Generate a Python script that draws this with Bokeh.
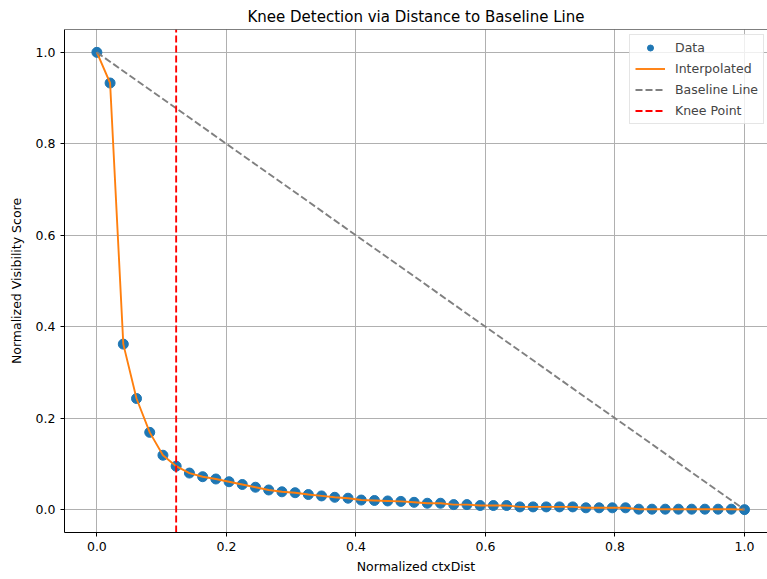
from bokeh.plotting import figure
from bokeh.models import PrintfTickFormatter, FixedTicker, Legend, LegendItem, Range1d, Span
from bokeh.embed import file_html
from bokeh.resources import INLINE

# ---- data ----
ctx_dist = [0.0, 0.0204, 0.0408, 0.0612, 0.0816, 0.1020, 0.1224, 0.1429, 0.1633, 0.1837,
            0.2041, 0.2245, 0.2449, 0.2653, 0.2857, 0.3061, 0.3265, 0.3469, 0.3673, 0.3878,
            0.4082, 0.4286, 0.4490, 0.4694, 0.4898, 0.5102, 0.5306, 0.5510, 0.5714, 0.5918,
            0.6122, 0.6327, 0.6531, 0.6735, 0.6939, 0.7143, 0.7347, 0.7551, 0.7755, 0.7959,
            0.8163, 0.8367, 0.8571, 0.8776, 0.8980, 0.9184, 0.9388, 0.9592, 0.9796, 1.0]
visibility = [1.0, 0.933, 0.362, 0.243, 0.169, 0.119, 0.095, 0.080, 0.072, 0.067,
              0.061, 0.055, 0.049, 0.043, 0.039, 0.037, 0.033, 0.030, 0.027, 0.025,
              0.021, 0.020, 0.019, 0.018, 0.016, 0.014, 0.014, 0.011, 0.011, 0.009,
              0.009, 0.009, 0.006, 0.006, 0.006, 0.006, 0.006, 0.004, 0.004, 0.004,
              0.004, 0.001, 0.001, 0.001, 0.001, 0.001, 0.001, 0.001, 0.001, 0.0]
knee_x = [0.1224]
tick_values = [0.0, 0.2, 0.4, 0.6, 0.8, 1.0]
series_labels = ["Data", "Interpolated", "Baseline Line", "Knee Point"]

# ---- layout ----
x_lo, x_hi = -0.05, 1.0355
y_lo, y_hi = -0.05, 1.05
FONT = "DejaVu Sans"

p = figure(width=767, height=579, output_backend="svg", toolbar_location=None,
           x_range=Range1d(x_lo, x_hi), y_range=Range1d(y_lo, y_hi),
           title="Knee Detection via Distance to Baseline Line",
           min_border_left=64, min_border_right=0, min_border_top=29, min_border_bottom=47)

p.title.align = "center"
p.title.text_font = FONT
p.title.text_font_size = "15px"
p.title.text_font_style = "normal"
p.title.text_color = "black"
p.title.standoff = 8

p.outline_line_color = None
p.background_fill_color = "white"
p.border_fill_color = "white"

for ax, lab in ((p.xaxis[0], "Normalized ctxDist"), (p.yaxis[0], "Normalized Visibility Score")):
    ax.ticker = FixedTicker(ticks=tick_values)
    ax.formatter = PrintfTickFormatter(format="%.1f")
    ax.minor_tick_line_color = None
    ax.major_tick_in = 0
    ax.major_tick_out = 4
    ax.major_tick_line_color = "black"
    ax.axis_line_color = "black"
    ax.major_label_text_font = FONT
    ax.major_label_text_font_size = "12.5px"
    ax.major_label_text_color = "black"
    ax.major_label_standoff = 5
    ax.axis_label = lab
    ax.axis_label_text_font = FONT
    ax.axis_label_text_font_size = "12.5px"
    ax.axis_label_text_font_style = "normal"
    ax.axis_label_text_color = "black"
p.xaxis[0].axis_label_standoff = 5
p.yaxis[0].axis_label_standoff = 9

for g in (p.xgrid[0], p.ygrid[0]):
    g.grid_line_color = "#b0b0b0"
    g.grid_line_width = 1
    g.ticker = FixedTicker(ticks=tick_values)

# top spine of the frame (the right one is off the page in the reference)
p.add_layout(Span(location=y_hi, dimension="width", line_color="black", line_width=1))

r_data = p.scatter(ctx_dist, visibility, size=10, color="#1f77b4", line_color="#1f77b4")
r_interp = p.line(ctx_dist, visibility, line_color="#ff7f0e", line_width=1.9)
r_base = p.line([ctx_dist[0], ctx_dist[-1]], [visibility[0], visibility[-1]],
                line_color="gray", line_width=1.9, line_dash="7 3")
r_knee = p.segment(x0=knee_x, y0=[y_lo], x1=knee_x, y1=[y_hi],
                   line_color="red", line_width=1.9, line_dash="7 3")

legend = Legend(items=[LegendItem(label=series_labels[0], renderers=[r_data]),
                       LegendItem(label=series_labels[1], renderers=[r_interp]),
                       LegendItem(label=series_labels[2], renderers=[r_base]),
                       LegendItem(label=series_labels[3], renderers=[r_knee])],
                location=(565, 408), margin=0, padding=5, spacing=6,
                glyph_width=30, glyph_height=15, label_height=15, label_standoff=10,
                label_text_font=FONT, label_text_font_size="12.5px",
                border_line_color="#cccccc", border_line_width=1,
                background_fill_color="white", background_fill_alpha=0.8)
p.add_layout(legend)

open("out.html", "w").write(file_html(p, INLINE))
